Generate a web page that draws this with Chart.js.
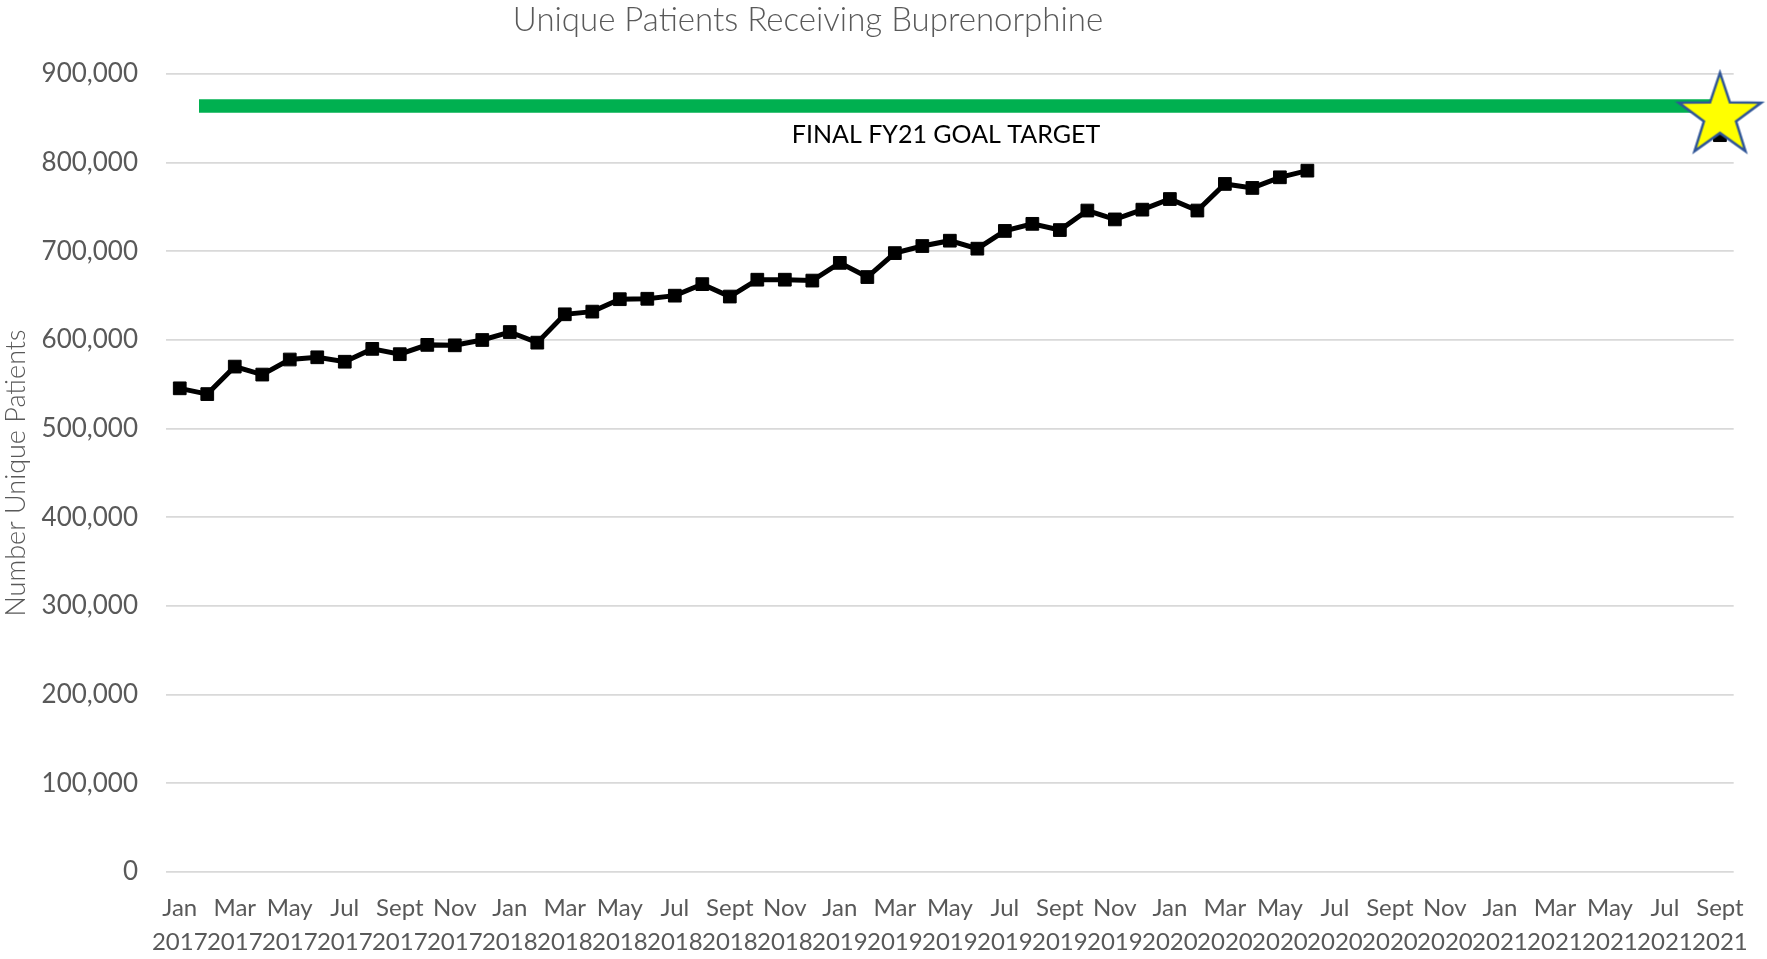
<!DOCTYPE html>
<html>
<head>
<meta charset="utf-8">
<script src="https://cdn.jsdelivr.net/npm/chart.js@4"></script>
<style>
  html, body { margin: 0; padding: 0; background: #fff; }
  canvas { display: block; }
</style>
</head>
<body>
<canvas id="chart" width="1767" height="959"></canvas>
<script>
// month names / years used for the category labels (one label per month)
const monthNames = ['Jan','Feb','Mar','Apr','May','Jun','Jul','Aug','Sept','Oct','Nov','Dec'];
const years = [2017, 2018, 2019, 2020, 2021];
const lastMonth = 8; // Sept 2021

// unique patients per month, Jan 2017 .. Jun 2020
const patients = [
  545500, 539000, 570000, 561000, 578000, 580500, 575500, 590000, 584000, 594500, 594000, 600000,
  609000, 597000, 629000, 632000, 646000, 646500, 650000, 663000, 649000, 668000, 668000, 667000,
  687000, 671000, 698000, 706000, 712000, 703000, 723000, 731000, 724000, 746000, 736000, 747000,
  759000, 746000, 776000, 771500, 783500, 791000
];

// goal target bar and the FY21 end point
const goalValue = 864000;
const goalStart = 0.7;      // starts a bit after Jan 2017 (month index)
const targetValue = 831000; // black marker hidden under the star
const starValue = 852500;

const yTicks = [0, 100000, 200000, 300000, 400000, 500000, 600000, 700000, 800000, 900000];

const labels = [];
for (const y of years) {
  monthNames.forEach((m, i) => {
    if (y < 2021 || i <= lastMonth) labels.push([m, String(y)]);
  });
}
const lastIdx = labels.length - 1;

// star marker drawn on its own canvas, used as pointStyle
function makeStar(R) {
  const c = document.createElement('canvas');
  const s = Math.ceil(R * 2 + 8);
  c.width = s; c.height = s;
  const g = c.getContext('2d');
  const cx = s / 2, cy = s / 2, r = R * 0.39;
  g.beginPath();
  for (let k = 0; k < 10; k++) {
    const a = -Math.PI / 2 + k * Math.PI / 5;
    const rr = k % 2 === 0 ? R : r;
    const px = cx + rr * Math.cos(a), py = cy + rr * Math.sin(a);
    k === 0 ? g.moveTo(px, py) : g.lineTo(px, py);
  }
  g.closePath();
  g.fillStyle = '#FFFF00';
  g.fill();
  g.lineWidth = 2.5;
  g.lineJoin = 'miter';
  g.strokeStyle = '#2F5597';
  g.stroke();
  return c;
}

const texts = {
  id: 'texts',
  afterDraw(chart) {
    const ctx = chart.ctx;
    ctx.save();
    ctx.textAlign = 'center';
    ctx.textBaseline = 'alphabetic';
    ctx.fillStyle = '#595959';
    ctx.font = '300 33px Lato';
    ctx.fillText('Unique Patients Receiving Buprenorphine', 808, 31);
    ctx.fillStyle = '#000';
    ctx.font = '400 25px Lato';
    ctx.fillText('FINAL FY21 GOAL TARGET', 946, 143);
    ctx.restore();
  }
};

Chart.defaults.font.family = 'Lato, "Open Sans", sans-serif';
Chart.defaults.color = '#595959';

new Chart(document.getElementById('chart'), {
  type: 'line',
  data: {
    datasets: [
      {
        label: 'Unique patients',
        data: patients.map((v, i) => ({ x: i, y: v })),
        borderColor: '#000',
        backgroundColor: '#000',
        borderWidth: 5,
        pointStyle: 'rect',
        pointRadius: 9,
        pointBorderWidth: 1,
        tension: 0,
        order: 1
      },
      {
        label: 'Goal',
        data: [{ x: goalStart, y: goalValue }, { x: lastIdx, y: goalValue }],
        borderColor: '#00B050',
        borderWidth: 13.5,
        borderCapStyle: 'butt',
        pointRadius: 0,
        order: 3
      },
      {
        label: 'Target',
        data: [{ x: lastIdx, y: targetValue }],
        backgroundColor: '#000',
        borderColor: '#000',
        pointStyle: 'rect',
        pointRadius: 9,
        showLine: false,
        clip: false,
        order: 4
      },
      {
        label: 'Star',
        data: [{ x: lastIdx, y: starValue }],
        pointStyle: makeStar(43.3),
        pointRadius: 44,
        showLine: false,
        clip: false,
        order: 0
      }
    ]
  },
  options: {
    responsive: false,
    devicePixelRatio: 1,
    animation: false,
    layout: { autoPadding: false, padding: { top: 74, right: 25, bottom: 0, left: 0 } },
    plugins: {
      legend: { display: false },
      tooltip: { enabled: false },
      title: { display: false }
    },
    scales: {
      x: {
        type: 'linear',
        min: -0.5,
        max: lastIdx + 0.5,
        afterBuildTicks: (scale) => {
          const t = [];
          for (let i = 0; i <= lastIdx; i += 2) t.push({ value: i });
          scale.ticks = t;
        },
        afterFit: (scale) => { scale.height = 87; },
        grid: { display: false, drawTicks: false },
        border: { display: false },
        ticks: {
          autoSkip: false,
          maxRotation: 0,
          padding: 19,
          font: { size: 24, lineHeight: 1.42 },
          color: '#595959',
          callback: (v) => labels[v]
        }
      },
      y: {
        min: 0,
        max: 900000,
        afterBuildTicks: (scale) => { scale.ticks = yTicks.map(v => ({ value: v })); },
        afterFit: (scale) => { scale.width = 166; },
        grid: { color: '#D9D9D9', lineWidth: 1.7, drawTicks: false },
        border: { display: false },
        ticks: {
          padding: 28,
          font: { size: 26 },
          color: '#595959',
          callback: (v) => v.toLocaleString('en-US')
        },
        title: {
          display: true,
          text: 'Number Unique Patients',
          color: '#595959',
          font: { size: 27, weight: '300' },
          padding: { top: 0, bottom: 0 }
        }
      }
    }
  },
  plugins: [texts]
});
</script>
</body>
</html>
